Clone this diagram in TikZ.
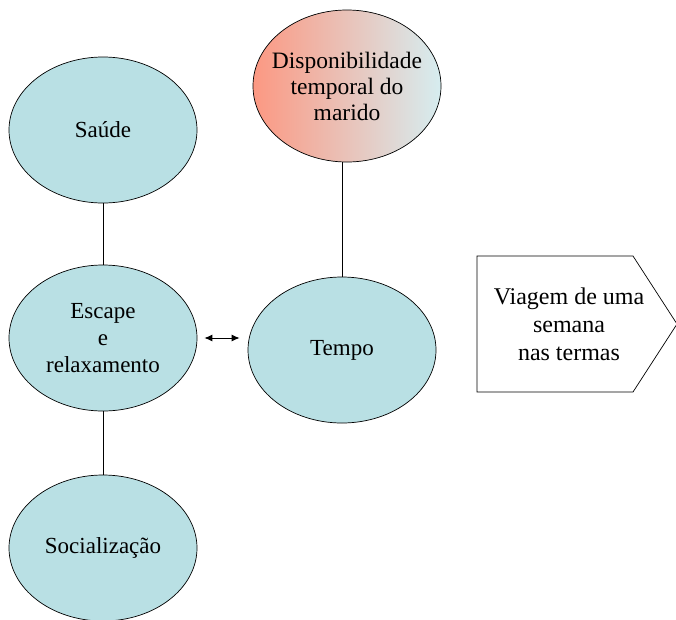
\documentclass[tikz,border=0pt]{standalone}
\usepackage{fontspec}
\setmainfont{Liberation Serif}
\usetikzlibrary{shapes.geometric,arrows.meta}

\definecolor{azulbolha}{RGB}{185,224,228}
\definecolor{salmao}{RGB}{252,152,130}
\definecolor{gelo}{RGB}{214,237,240}

\tikzset{
    balao/.style={ellipse, draw, line width=0.7pt, fill=azulbolha, inner sep=0pt,
        minimum width=188pt, minimum height=146pt, align=center,
        font=\fontsize{23}{27}\selectfont},
    ligacao/.style={draw, line width=0.7pt},
}

\begin{document}
\begin{tikzpicture}[x=1pt, y=-1pt]
    \useasboundingbox (0,0) rectangle (676,619);

    % left column
    \node[balao] (saude) at (103,130) {Saúde};
    \node[balao] (escape) at (103,338) {Escape\\e\\relaxamento};
    \node[balao] (social) at (103,548) {Socialização};

    % right column
    \node[balao, shading=axis, left color=salmao, right color=gelo,
        inner xsep=-12pt, minimum height=152pt, font=\fontsize{23.5}{26}\selectfont]
        (marido) at (347,86) {Disponibilidade\\temporal do\\marido};
    \node[balao] (tempo) at (342,350) {Tempo};

    % connections
    \draw[ligacao] (saude) -- (escape);
    \draw[ligacao] (escape) -- (social);
    \draw[ligacao] (marido.south -| tempo.north) -- (tempo.north);
    \draw[{Latex[length=8pt,width=7pt]}-{Latex[length=8pt,width=7pt]}, line width=1pt,
        shorten <=7pt, shorten >=8pt] (escape.east) -- (escape.east -| tempo.west);

    % pentagon label
    \draw[line width=0.7pt] (477,256) -- (633,256) -- (677,324) -- (633,392) -- (477,392) -- cycle;
    \node[align=center, font=\fontsize{24}{28}\selectfont] (viagem) at (569,324)
        {Viagem de uma\\semana\\nas termas};
\end{tikzpicture}
\end{document}
